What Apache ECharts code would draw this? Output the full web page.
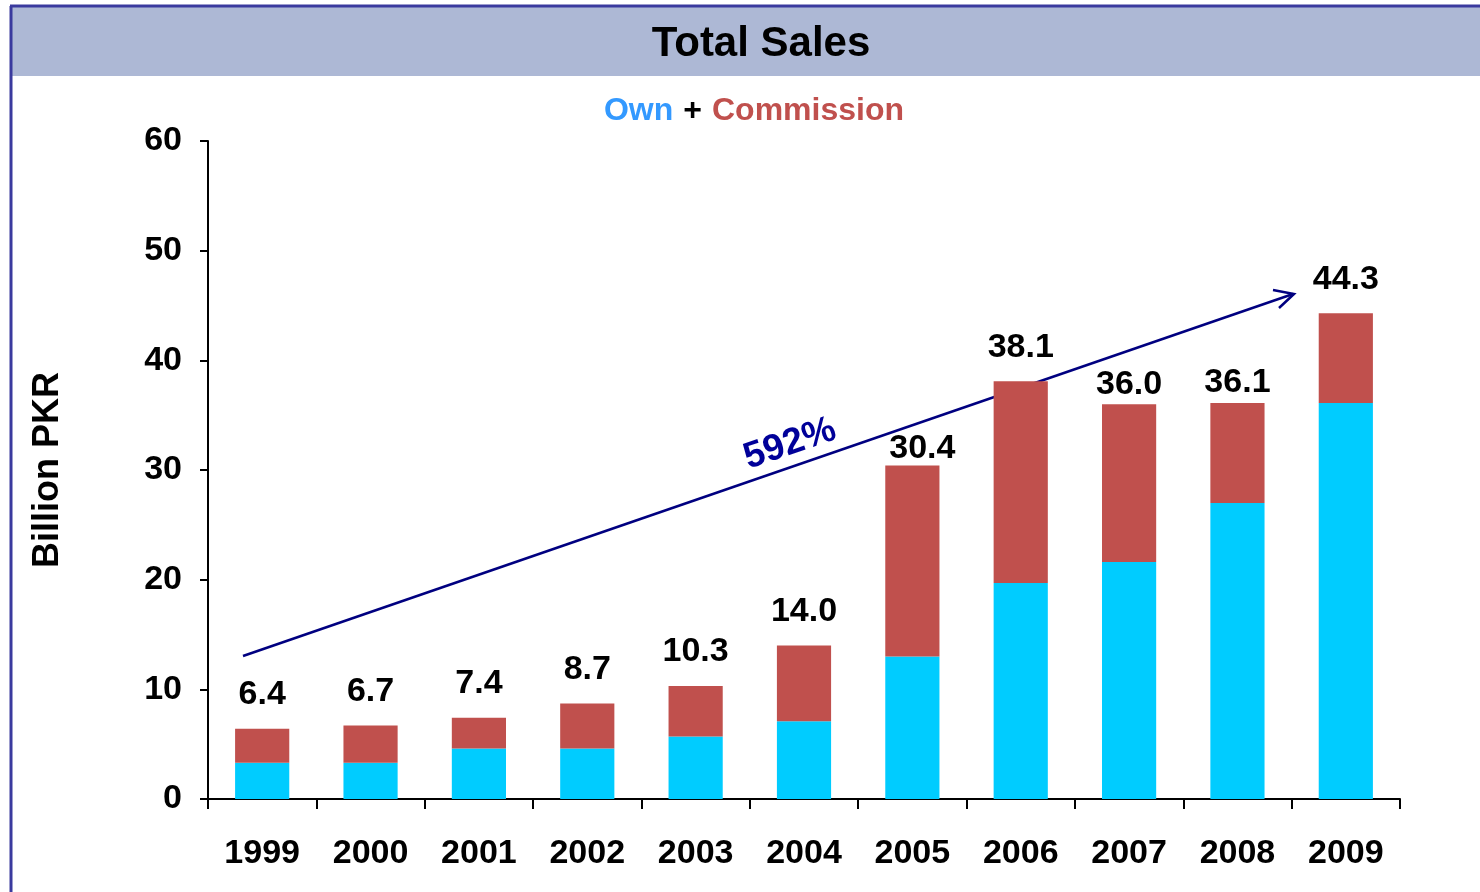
<!DOCTYPE html>
<html>
<head>
<meta charset="utf-8">
<script src="https://cdn.jsdelivr.net/npm/echarts@6/dist/echarts.min.js"></script>
<style>
  html, body { margin: 0; padding: 0; background: #fff; }
  #main { width: 1480px; height: 892px; }
</style>
</head>
<body>
<div id="main"></div>
<script>
const years = ["1999", "2000", "2001", "2002", "2003", "2004", "2005", "2006", "2007", "2008", "2009"];
const totals = [6.4, 6.7, 7.4, 8.7, 10.3, 14.0, 30.4, 38.1, 36.0, 36.1, 44.3];
const ownSales = [3.3, 3.3, 4.6, 4.6, 5.7, 7.1, 13.0, 19.7, 21.6, 27.0, 36.1];
const commissionSales = totals.map((t, i) => +(t - ownSales[i]).toFixed(1));

const font = "'Liberation Sans', Arial, sans-serif";

// some total labels sit closer to their bar (so they don't hit the arrow)
const tightLabels = {
  "2005": { distance: 0, offset: [10, 0] },
  "2007": { distance: 3 },
  "2008": { distance: 3 },
};

var chartDom = document.getElementById("main");
var myChart = echarts.init(chartDom);

var option = {
  animation: false,
  textStyle: { fontFamily: font },
  title: [
    {
      text: "Total Sales",
      left: 756,
      top: 18,
      textAlign: "center",
      textStyle: { fontSize: 42, fontWeight: "bold", color: "#000", fontFamily: font },
    },
    {
      text: "{own|Own}  {plus|+}  {com|Commission}",
      left: 749,
      top: 90,
      textAlign: "center",
      textStyle: {
        fontFamily: font,
        rich: {
          own: { fontSize: 32, fontWeight: "bold", color: "#3399ff", fontFamily: font },
          plus: { fontSize: 32, fontWeight: "bold", color: "#000", fontFamily: font },
          com: { fontSize: 32, fontWeight: "bold", color: "#c0504d", fontFamily: font },
        },
      },
    },
  ],
  grid: { left: 208, right: 80, top: 141, bottom: 93, containLabel: false },
  xAxis: {
    type: "category",
    data: years,
    axisLine: { lineStyle: { color: "#000", width: 2 } },
    axisTick: { show: true, length: 10, lineStyle: { color: "#000", width: 2 } },
    axisLabel: { margin: 38, fontSize: 34, fontWeight: "bold", color: "#000", fontFamily: font },
  },
  yAxis: {
    type: "value",
    min: 0,
    max: 60,
    interval: 10,
    name: "Billion PKR",
    nameLocation: "middle",
    nameGap: 142,
    nameTextStyle: { fontSize: 36, fontWeight: "bold", color: "#000", fontFamily: font },
    axisLine: { show: true, lineStyle: { color: "#000", width: 2 } },
    axisTick: { show: true, length: 8, lineStyle: { color: "#000", width: 2 } },
    axisLabel: { margin: 26, fontSize: 34, fontWeight: "bold", color: "#000", fontFamily: font },
    splitLine: { show: false },
  },
  series: [
    {
      name: "Own",
      type: "bar",
      stack: "sales",
      barWidth: "50%",
      data: ownSales,
      itemStyle: { color: "#00ccff" },
    },
    {
      name: "Commission",
      type: "bar",
      stack: "sales",
      barWidth: "50%",
      data: commissionSales.map((v, i) =>
        years[i] in tightLabels ? { value: v, label: tightLabels[years[i]] } : v
      ),
      itemStyle: { color: "#c0504d" },
      label: {
        show: true,
        position: "top",
        distance: 17,
        fontSize: 34,
        fontWeight: "bold",
        color: "#000",
        fontFamily: font,
        formatter: (p) => totals[p.dataIndex].toFixed(1),
      },
    },
  ],
  graphic: [
    // frame and title band
    { type: "rect", z: -10, shape: { x: 10, y: 6, width: 1480, height: 70 }, style: { fill: "#adb8d5" } },
    { type: "line", z: -5, shape: { x1: 11, y1: 6, x2: 11, y2: 892 }, style: { stroke: "#3a3a9e", lineWidth: 3 } },
    { type: "line", z: -5, shape: { x1: 10, y1: 6, x2: 1480, y2: 6 }, style: { stroke: "#3a3a9e", lineWidth: 3 } },
    // growth arrow
    { type: "line", shape: { x1: 243, y1: 656, x2: 1293, y2: 294 }, style: { stroke: "#000080", lineWidth: 2.5 } },
    { type: "polyline", shape: { points: [[1273, 290], [1294, 294], [1279, 308]] }, style: { stroke: "#000080", lineWidth: 2.5, fill: null } },
    {
      type: "text",
      x: 790,
      y: 444,
      rotation: 19 * Math.PI / 180,
      style: {
        text: "592%",
        fill: "#000099",
        font: "bold 37px " + font,
        align: "center",
        verticalAlign: "middle",
      },
    },
  ],
};

option && myChart.setOption(option);
</script>
</body>
</html>
